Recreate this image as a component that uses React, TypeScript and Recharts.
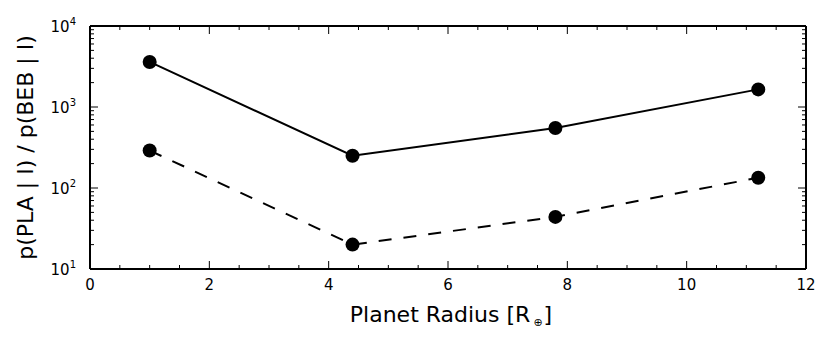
import React from 'react';
import { LineChart, Line, XAxis, YAxis } from 'recharts';

const radius = [1.0, 4.4, 7.8, 11.2];
const solidRatio = [3600, 250, 550, 1650];
const dashedRatio = [290, 20, 44, 134];

const xTicks = [0, 0.5, 1, 1.5, 2, 2.5, 3, 3.5, 4, 4.5, 5, 5.5, 6, 6.5, 7, 7.5, 8, 8.5, 9, 9.5, 10, 10.5, 11, 11.5, 12];
const xLabels = [0, 2, 4, 6, 8, 10, 12];
const yMajor = [10, 100, 1000, 10000];

const yTicks: number[] = [];
yMajor.forEach((m, i) => {
  yTicks.push(m);
  if (i < yMajor.length - 1) {
    for (let j = 2; j <= 9; j++) yTicks.push(m * j);
  }
});

const data = radius.map((r, i) => ({ r, solid: solidRatio[i], dashed: dashedRatio[i] }));

const FONT = '"DejaVu Sans", sans-serif';

const isMajorY = (v: number) => yMajor.includes(v);

const BottomTick = (props: any) => {
  const { x, y, payload } = props;
  const v = payload.value;
  const major = xLabels.includes(v);
  return (
    <g>
      <line x1={x} x2={x} y1={y} y2={y - (major ? 8 : 4)} stroke="#000" strokeWidth={1} />
      {major && (
        <text x={x} y={y + 21} textAnchor="middle" fontSize={15} fontFamily={FONT} fill="#000">
          {v}
        </text>
      )}
    </g>
  );
};

const TopTick = (props: any) => {
  const { x, y, payload } = props;
  const major = xLabels.includes(payload.value);
  return <line x1={x} x2={x} y1={y} y2={y + (major ? 8 : 4)} stroke="#000" strokeWidth={1} />;
};

const LeftTick = (props: any) => {
  const { x, y, payload } = props;
  const v = payload.value;
  const major = isMajorY(v);
  return (
    <g>
      <line x1={x} x2={x + (major ? 8 : 4)} y1={y} y2={y} stroke="#000" strokeWidth={1} />
      {major && (
        <text x={x - 14} y={y + 6} textAnchor="end" fontSize={15} fontFamily={FONT} fill="#000">
          <tspan>10</tspan>
          <tspan dy={-7} fontSize={10}>{Math.round(Math.log10(v))}</tspan>
        </text>
      )}
    </g>
  );
};

const RightTick = (props: any) => {
  const { x, y, payload } = props;
  const major = isMajorY(payload.value);
  return <line x1={x} x2={x - (major ? 8 : 4)} y1={y} y2={y} stroke="#000" strokeWidth={1} />;
};

const XTitle = (props: any) => {
  const { viewBox } = props;
  const cx = viewBox.x + viewBox.width / 2 + 3;
  return (
    <text x={cx} y={viewBox.y + 52.5} textAnchor="middle" fontSize={22} fontFamily={FONT} fill="#000">
      <tspan>Planet Radius [R</tspan>
      <tspan dx={3} dy={4} fontSize={11}>⊕</tspan>
      <tspan dx={1} dy={-4}>]</tspan>
    </text>
  );
};

const YTitle = (props: any) => {
  const { viewBox } = props;
  const cy = viewBox.y + viewBox.height / 2;
  return (
    <text
      x={33}
      y={cy}
      transform={`rotate(-90, 33, ${cy})`}
      textAnchor="middle"
      fontSize={22}
      fontFamily={FONT}
      fill="#000"
    >
      p(PLA | I) / p(BEB | I)
    </text>
  );
};

const axisLine = { stroke: '#000', strokeWidth: 2 };

export default function App() {
  return (
    <div style={{ position: 'absolute', left: 0, top: 0, background: '#fff' }}>
      <LineChart width={831} height={347} data={data} margin={{ top: 0, right: 0, bottom: 0, left: 0 }}>
        <XAxis
          dataKey="r"
          type="number"
          domain={[0, 12]}
          ticks={xTicks}
          interval={0}
          height={78}
          tickSize={0}
          tickMargin={0}
          tickLine={false}
          axisLine={axisLine}
          tick={<BottomTick />}
          label={{ content: <XTitle /> }}
        />
        <XAxis
          xAxisId="top"
          orientation="top"
          dataKey="r"
          type="number"
          domain={[0, 12]}
          ticks={xTicks}
          interval={0}
          height={26}
          tickSize={0}
          tickMargin={0}
          tickLine={false}
          axisLine={axisLine}
          tick={<TopTick />}
        />
        <YAxis
          type="number"
          scale="log"
          domain={[10, 10000]}
          ticks={yTicks}
          interval={0}
          width={90}
          tickSize={0}
          tickMargin={0}
          tickLine={false}
          axisLine={axisLine}
          tick={<LeftTick />}
          allowDataOverflow
          label={{ content: <YTitle /> }}
        />
        <YAxis
          yAxisId="right"
          orientation="right"
          type="number"
          scale="log"
          domain={[10, 10000]}
          ticks={yTicks}
          interval={0}
          width={25}
          tickSize={0}
          tickMargin={0}
          tickLine={false}
          axisLine={axisLine}
          tick={<RightTick />}
          allowDataOverflow
        />
        <Line
          dataKey="solid"
          stroke="#000"
          strokeWidth={2}
          dot={{ r: 7, fill: '#000', stroke: 'none' }}
          isAnimationActive={false}
        />
        <Line
          dataKey="dashed"
          stroke="#000"
          strokeWidth={2}
          strokeDasharray="13 12"
          dot={{ r: 7, fill: '#000', stroke: 'none', strokeDasharray: 'none' }}
          isAnimationActive={false}
        />
      </LineChart>
    </div>
  );
}
